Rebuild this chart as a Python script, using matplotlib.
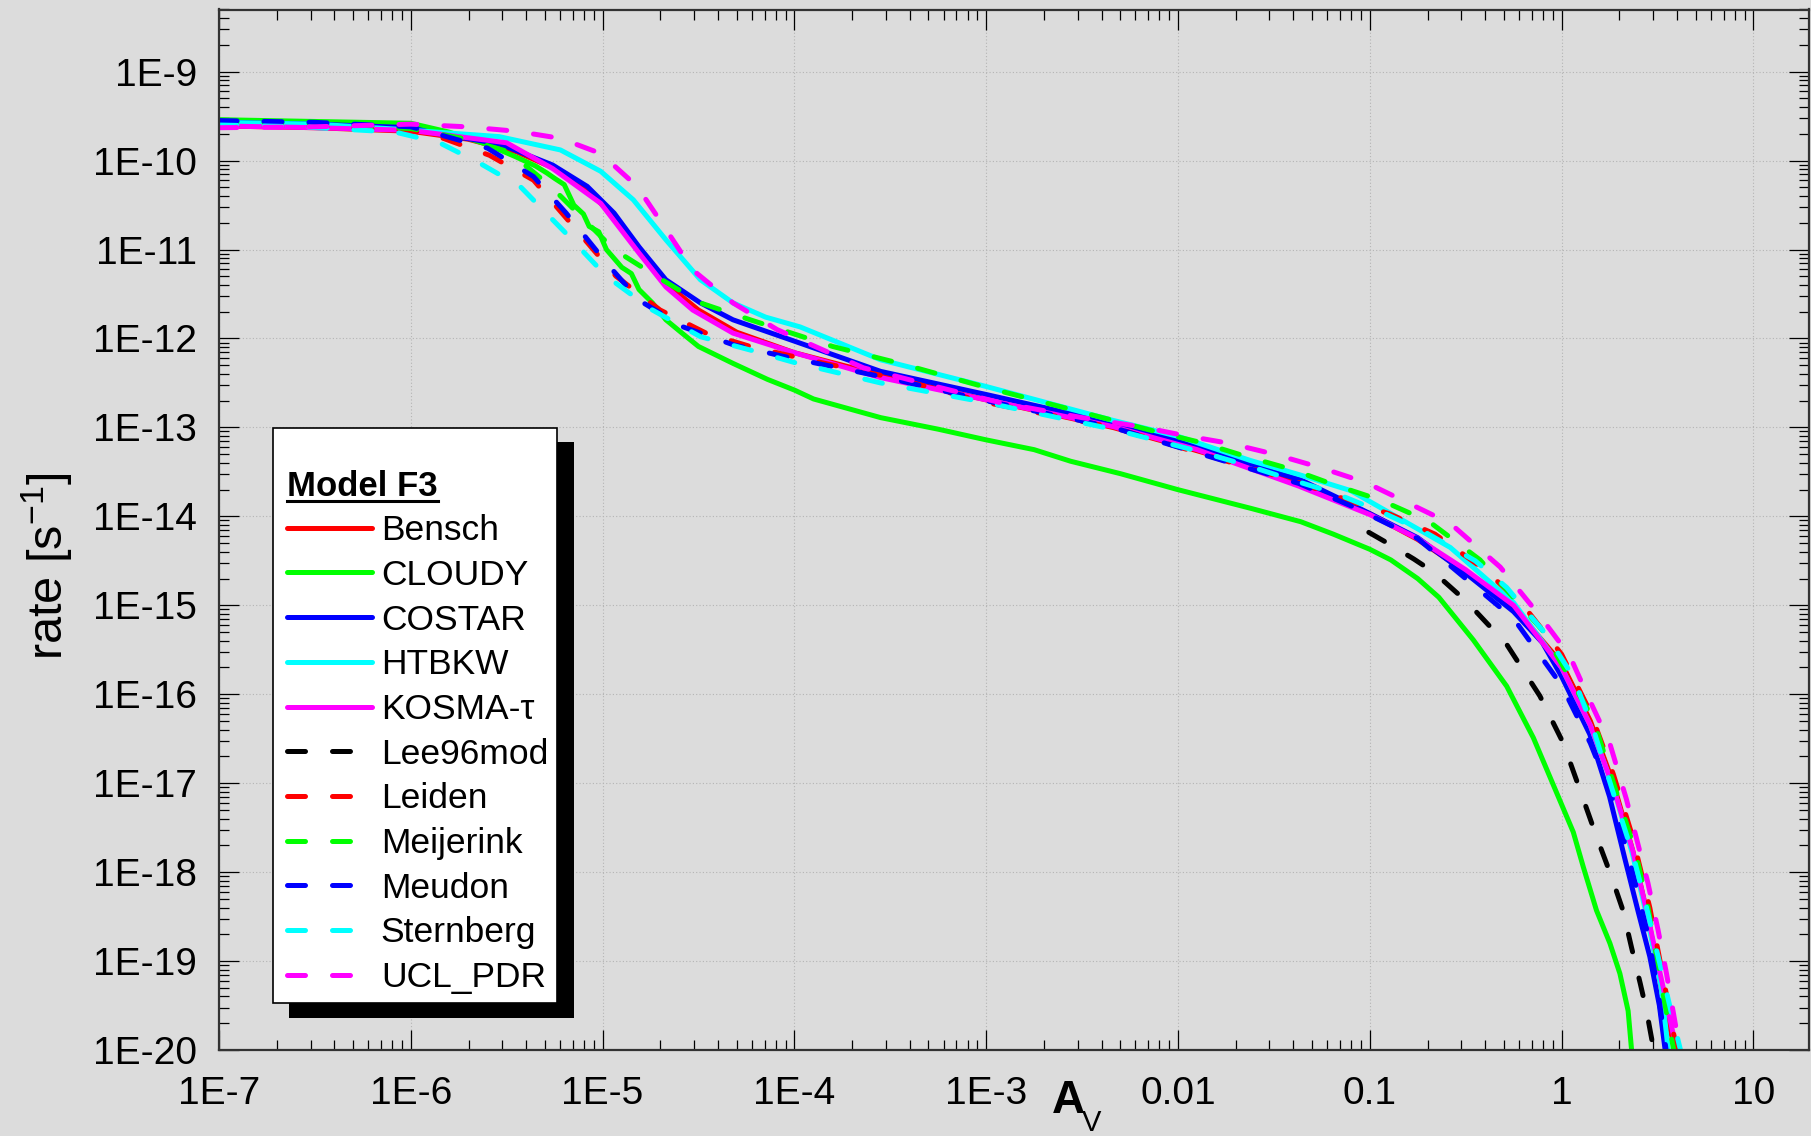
import numpy as np
import matplotlib
matplotlib.use("Agg")
import matplotlib.pyplot as plt
from matplotlib.ticker import LogLocator, NullFormatter
from matplotlib.patches import Rectangle
from matplotlib.lines import Line2D

plt.rcParams['font.family'] = ['Liberation Sans', 'DejaVu Sans']
plt.rcParams['mathtext.default'] = 'regular'

# values, as log10(A_V) and log10(rate)
bensch_x = [-7.0, -6.5, -6.0, -5.7, -5.45, -5.26, -5.1, -4.95, -4.81, -4.67, -4.5, -4.3, -4.0, -3.5, -3.0,
            -2.34, -2.0, -1.6, -1.37, -1.0, -0.75, -0.5, -0.25, 0.0, 0.15, 0.27, 0.37, 0.45, 0.52, 0.59, 0.60]
bensch_y = [-9.61, -9.63, -9.67, -9.76, -9.9, -10.08, -10.3, -10.6, -11.0, -11.38, -11.68, -11.93, -12.16, -12.44, -12.69,
            -13.0, -13.2, -13.45, -13.64, -13.97, -14.26, -14.62, -15.02, -15.65, -16.3, -17.0, -17.75, -18.5, -19.3, -20.0, -20.2]

cloudy_x = [-7.0, -6.5, -6.0, -5.8, -5.6, -5.45, -5.35, -5.29, -5.25, -5.2, -5.15, -5.1, -5.07, -5.02, -4.98,
            -4.9, -4.85, -4.81, -4.74, -4.67, -4.58, -4.5, -4.32, -4.14, -4.0, -3.9, -3.55, -3.25, -3.0, -2.75,
            -2.56, -2.3, -2.0, -1.62, -1.36, -1.19, -1.0, -0.89, -0.75, -0.64, -0.46, -0.286, -0.147, -0.043,
            0.061, 0.113, 0.182, 0.252, 0.304, 0.347, 0.365, 0.37]
cloudy_y = [-9.54, -9.56, -9.58, -9.68, -9.82, -9.96, -10.06, -10.14, -10.2, -10.27, -10.5, -10.6, -10.74, -10.8, -11.0,
            -11.2, -11.27, -11.45, -11.6, -11.79, -11.95, -12.09, -12.28, -12.46, -12.58, -12.68, -12.89, -13.02, -13.14, -13.25,
            -13.38, -13.52, -13.70, -13.91, -14.06, -14.2, -14.37, -14.49, -14.7, -14.91, -15.39, -15.91, -16.49, -17.02,
            -17.55, -17.94, -18.43, -18.8, -19.14, -19.56, -20.0, -20.3]

costar_x = [-7.0, -6.5, -6.0, -5.88, -5.54, -5.26, -5.08, -4.94, -4.81, -4.67, -4.49, -4.32, -4.0, -3.55, -3.0,
            -2.34, -2.0, -1.625, -1.36, -1.1, -0.75, -0.494, -0.251, -0.1, 0.0, 0.147, 0.25, 0.33, 0.40, 0.46,
            0.51, 0.54, 0.55]
costar_y = [-9.57, -9.59, -9.63, -9.69, -9.81, -10.05, -10.29, -10.59, -10.97, -11.34, -11.6, -11.79, -12.03, -12.37, -12.63,
            -12.95, -13.14, -13.42, -13.59, -13.86, -14.24, -14.65, -15.07, -15.42, -15.8, -16.45, -17.15, -17.85, -18.45, -18.95,
            -19.5, -20.0, -20.2]

htbkw_x = [-7.0, -6.5, -6.06, -5.8, -5.54, -5.22, -5.01, -4.84, -4.67, -4.49, -4.32, -4.15, -3.97, -3.55, -3.0,
           -2.34, -2.0, -1.625, -1.37, -1.1, -0.58, -0.25, 0.0, 0.15, 0.27, 0.37, 0.45, 0.52, 0.556, 0.565]
htbkw_y = [-9.57, -9.59, -9.648, -9.69, -9.73, -9.88, -10.12, -10.44, -10.89, -11.34, -11.6, -11.76, -11.87, -12.24, -12.54,
           -12.92, -13.1, -13.37, -13.53, -13.71, -14.35, -14.97, -15.7, -16.35, -17.05, -17.8, -18.55, -19.3, -20.0, -20.2]

kosma_x = [-7.0, -6.5, -6.0, -5.5, -5.26, -5.01, -4.81, -4.67, -4.53, -4.32, -4.0, -3.55, -3.0, -2.34, -1.9,
           -1.37, -1.0, -0.75, -0.5, -0.25, 0.0, 0.15, 0.27, 0.37, 0.45, 0.53, 0.60, 0.61]
kosma_y = [-9.61, -9.63, -9.66, -9.8, -10.09, -10.48, -11.04, -11.42, -11.68, -11.94, -12.16, -12.44, -12.69, -12.99, -13.25,
           -13.66, -13.98, -14.25, -14.6, -15.0, -15.7, -16.35, -17.05, -17.75, -18.5, -19.3, -20.0, -20.2]

lee96_x = [-1.005, -0.9, -0.77, -0.665, -0.494, -0.286, -0.113, 0.009, 0.095, 0.182, 0.26, 0.32, 0.365, 0.41,
           0.443, 0.478, 0.49]
lee96_y = [-14.18, -14.31, -14.48, -14.63, -14.96, -15.44, -16.02, -16.55, -17.07, -17.6, -18.05, -18.43, -18.85, -19.25,
           -19.56, -19.97, -20.2]

leiden_x = [-7.0, -6.5, -6.0, -5.83, -5.59, -5.36, -5.12, -4.93, -4.7, -4.46, -4.23, -3.97, -3.45, -3.0, -2.34,
            -1.37, -1.1, -0.9, -0.66, -0.4, -0.2, 0.0, 0.15, 0.27, 0.37, 0.46, 0.54, 0.60, 0.61]
leiden_y = [-9.61, -9.62, -9.66, -9.75, -9.94, -10.22, -10.82, -11.3, -11.68, -11.94, -12.09, -12.22, -12.46, -12.72, -13.0,
            -13.62, -13.83, -13.97, -14.2, -14.6, -15.0, -15.55, -16.2, -16.9, -17.6, -18.4, -19.3, -20.0, -20.2]

meijerink_x = [-7.0, -6.5, -6.0, -5.73, -5.49, -5.27, -4.94, -4.69, -4.49, -4.23, -4.0, -3.8, -3.45, -3.0, -2.34,
               -2.11, -1.88, -1.64, -1.41, -1.18, -0.94, -0.69, -0.425, -0.1, 0.165, 0.382, 0.443, 0.495, 0.54,
               0.585, 0.595]
meijerink_y = [-9.56, -9.58, -9.64, -9.75, -9.9, -10.29, -11.0, -11.34, -11.6, -11.79, -11.95, -12.09, -12.28, -12.55, -12.92,
               -13.05, -13.17, -13.33, -13.47, -13.65, -13.82, -14.06, -14.49, -15.28, -16.28, -17.75, -18.3, -18.95, -19.5,
               -20.0, -20.2]

meudon_x = [-7.0, -6.5, -6.0, -5.88, -5.6, -5.36, -5.19, -4.98, -4.81, -4.58, -4.32, -4.06, -3.5, -3.0, -2.34,
            -1.37, -1.1, -0.75, -0.5, -0.25, 0.0, 0.15, 0.27, 0.37, 0.45, 0.5, 0.545, 0.555]
meudon_y = [-9.55, -9.57, -9.62, -9.69, -9.86, -10.18, -10.59, -11.15, -11.57, -11.87, -12.07, -12.2, -12.45, -12.7, -13.0,
            -13.63, -13.88, -14.25, -14.7, -15.15, -15.9, -16.55, -17.2, -18.0, -18.7, -19.3, -20.0, -20.2]

sternberg_x = [-7.0, -6.57, -6.08, -5.85, -5.64, -5.43, -5.19, -4.98, -4.74, -4.49, -4.23, -4.0, -3.55, -3.0, -2.34,
               -1.89, -1.65, -1.42, -1.18, -0.94, -0.71, -0.45, -0.286, -0.08, 0.06, 0.165, 0.303, 0.373, 0.442,
               0.52, 0.58, 0.62, 0.63]
sternberg_y = [-9.60, -9.62, -9.68, -9.8, -10.03, -10.29, -10.82, -11.3, -11.68, -11.98, -12.13, -12.27, -12.5, -12.72, -13.02,
               -13.27, -13.42, -13.58, -13.74, -13.95, -14.18, -14.5, -14.8, -15.33, -15.8, -16.39, -17.34, -17.81, -18.39,
               -19.1, -19.65, -20.0, -20.2]

ucl_x = [-7.0, -6.5, -6.0, -5.71, -5.45, -5.22, -5.01, -4.82, -4.68, -4.53, -4.32, -4.09, -3.85, -3.64, -3.3,
         -2.93, -2.5, -2.2, -1.97, -1.73, -1.5, -1.26, -1.02, -0.79, -0.58, -0.32, -0.113, 0.043, 0.147, 0.251,
         0.338, 0.45, 0.503, 0.547, 0.59, 0.617, 0.63]
ucl_y = [-9.63, -9.62, -9.59, -9.62, -9.67, -9.75, -9.92, -10.29, -10.74, -11.23, -11.6, -11.9, -12.13, -12.33, -12.52,
         -12.72, -12.89, -12.99, -13.09, -13.18, -13.3, -13.45, -13.62, -13.86, -14.08, -14.57, -15.12, -15.57, -16.07, -16.55,
         -17.18, -18.12, -18.65, -19.14, -19.67, -20.0, -20.2]

models = ['Bensch', 'CLOUDY', 'COSTAR', 'HTBKW', 'KOSMA-\u03c4', 'Lee96mod', 'Leiden', 'Meijerink', 'Meudon',
          'Sternberg', 'UCL_PDR']
xs = [bensch_x, cloudy_x, costar_x, htbkw_x, kosma_x, lee96_x, leiden_x, meijerink_x, meudon_x, sternberg_x, ucl_x]
ys = [bensch_y, cloudy_y, costar_y, htbkw_y, kosma_y, lee96_y, leiden_y, meijerink_y, meudon_y, sternberg_y, ucl_y]
colors = ['#ff0000', '#00ff00', '#0000ff', '#00ffff', '#ff00ff', '#000000', '#ff0000', '#00ff00', '#0000ff',
          '#00ffff', '#ff00ff']
dashed = [False] * 5 + [True] * 6

xticks = [1e-7, 1e-6, 1e-5, 1e-4, 1e-3, 1e-2, 1e-1, 1, 10]
xticklabels = ['1E-7', '1E-6', '1E-5', '1E-4', '1E-3', '0.01', '0.1', '1', '10']
yticks = [10.0 ** e for e in range(-20, -8)]
yticklabels = ['1E%d' % e for e in range(-20, -8)]

W, H = 1811, 1136
bg = '#dcdcdc'
fig = plt.figure(figsize=(W / 100, H / 100), dpi=100, facecolor=bg)
ax = fig.add_axes([219 / W, 1 - 1050 / H, (1809 - 219) / W, (1050 - 9.5) / H])
ax.set_facecolor(bg)

lw = 3.6
for x, y, c, d, name in zip(xs, ys, colors, dashed, models):
    line, = ax.plot(10.0 ** np.array(x), 10.0 ** np.array(y), color=c, lw=lw, label=name,
                    solid_capstyle='round', dash_capstyle='round', solid_joinstyle='round')
    if d:
        line.set_dashes((3.6, 5.4))

ax.set_xscale('log')
ax.set_yscale('log')
ax.set_xlim(1e-7, 19.5)
ax.set_ylim(1e-20, 5e-9)

ax.set_xticks(xticks, xticklabels)
ax.set_yticks(yticks, yticklabels)
for a in (ax.xaxis, ax.yaxis):
    a.set_minor_locator(LogLocator(base=10, subs=np.arange(2, 10), numticks=200))
    a.set_minor_formatter(NullFormatter())

ax.tick_params(which='both', direction='in', top=True, right=True, color='black', width=0.9)
ax.tick_params(which='major', length=14.5, labelsize=28)
ax.tick_params(which='minor', length=7)
ax.tick_params(axis='y', which='major', pad=16)
ax.tick_params(axis='x', which='major', pad=19)
for s in ax.spines.values():
    s.set_color('#333333')
    s.set_linewidth(1.6)

ax.set_axisbelow(True)
ax.grid(True, which='major', linestyle=(0, (1, 2)), color='#b4b4b4', linewidth=0.8)

# axis labels
fig.text(47 / W, 1 - 566 / H, r'rate [s$^{\mathregular{-1}}$]', rotation=90, fontsize=35, ha='center', va='center')
fig.text(1052 / W, 1 - 1113 / H, 'A', fontsize=33, fontweight='bold', ha='left', va='baseline')
fig.text(1082 / W, 1 - 1131 / H, 'V', fontsize=21, ha='left', va='baseline')

# legend with offset black shadow
shadow = Rectangle((289 / W, 1 - 1018 / H), 285 / W, 576 / H, transform=fig.transFigure,
                   facecolor='black', edgecolor='none', zorder=4, clip_on=False)
frame = Rectangle((273 / W, 1 - 1003 / H), 284 / W, 575 / H, transform=fig.transFigure,
                  facecolor='white', edgecolor='black', linewidth=1.2, zorder=4.5, clip_on=False)
ax.add_patch(shadow)
ax.add_patch(frame)

leg = ax.legend(loc='upper left', bbox_to_anchor=(287 / W, 1 - 469.5 / H), bbox_transform=fig.transFigure,
                frameon=False, fontsize=25.5, title='Model F3',
                title_fontproperties={'weight': 'bold', 'size': 25}, alignment='left',
                handlelength=2.4, handletextpad=0.25, labelspacing=0.33, borderpad=0, borderaxespad=0)
leg.set_zorder(5)

fig.canvas.draw()
tb = leg.get_title().get_window_extent()
fig.add_artist(Line2D([tb.x0 / W, tb.x1 / W], [(tb.y0 + 2) / H, (tb.y0 + 2) / H], color='black', lw=2.2))

fig.savefig('out.png', dpi=100, facecolor=bg)
